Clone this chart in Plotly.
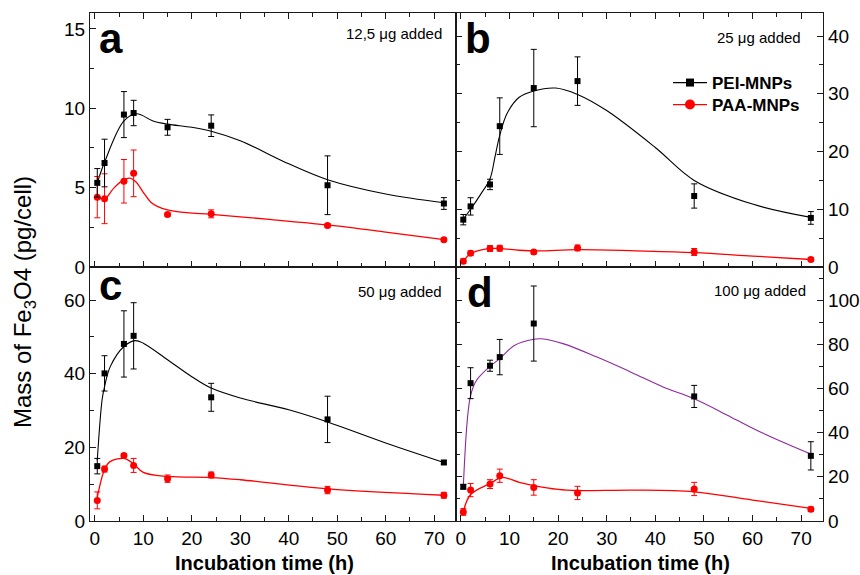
import plotly.graph_objects as go

FONT = "Liberation Sans, Arial, sans-serif"

# ---------------- data ----------------
times = [0.5, 2, 6, 8, 15, 24, 48, 72]

pei_a = [5.3, 6.55, 9.6, 9.7, 8.8, 8.9, 5.15, 4.0]
pei_a_err = [0.9, 1.5, 1.45, 0.8, 0.5, 0.68, 1.85, 0.37]
paa_a = [4.4, 4.3, 5.4, 5.9, 3.3, 3.35, 2.62, 1.72]
paa_a_err = [1.3, 1.57, 1.37, 1.47, 0.1, 0.25, 0.1, 0.1]

pei_b = [8.2, 10.5, 14.3, 24.4, 31.0, 32.2, 12.3, 8.5]
pei_b_err = [0.9, 1.5, 0.9, 4.9, 6.7, 4.2, 2.1, 1.1]
paa_b = [1.0, 2.4, 3.2, 3.25, 2.6, 3.3, 2.6, 1.3]
paa_b_err = [0.4, 0.4, 0.5, 0.5, 0.3, 0.5, 0.6, 0.3]

pei_c = [14.9, 40.1, 48.1, 50.3, None, 33.6, 27.6, 15.9]
pei_c_err = [2.1, 4.8, 9.0, 9.0, None, 3.8, 6.3, 0.5]
paa_c = [5.6, 14.1, 17.8, 15.1, 11.5, 12.5, 8.4, 7.0]
paa_c_err = [2.3, 0.8, 0.5, 1.9, 1.0, 0.8, 1.0, 0.8]

pei_d = [15.5, 62.4, 70.3, 74.2, 89.4, None, 56.4, 29.5]
pei_d_err = [1.0, 7.0, 2.5, 8.0, 17.0, None, 5.0, 6.4]
paa_d = [4.1, 14.0, 16.7, 20.5, 15.2, 12.7, 14.5, 5.3]
paa_d_err = [1.5, 3.0, 2.0, 3.0, 3.5, 3.0, 3.0, 1.0]

# fitted curves
fit_a_pei_t = [0.5, 2, 6, 8.6, 12, 15, 20, 24, 30, 40, 48, 60, 72]
fit_a_pei_y = [5.3, 6.6, 9.2, 9.65, 9.2, 9.0, 8.8, 8.55, 7.95, 6.5, 5.5, 4.6, 4.05]
fit_a_paa_t = [0.5, 2, 4, 6, 7.2, 8.5, 10, 11.5, 13, 15, 19, 24, 36, 48, 60, 72]
fit_a_paa_y = [4.4, 4.3, 5.0, 5.5, 5.6, 5.35, 4.7, 4.1, 3.8, 3.6, 3.42, 3.32, 3.0, 2.65, 2.2, 1.72]

fit_b_pei_t = [0.5, 2, 4, 6, 7, 8, 9.5, 12, 15, 19.5, 24, 30, 40, 48, 60, 72]
fit_b_pei_y = [8.3, 10.0, 12.5, 15.3, 19.0, 22.8, 26.6, 29.4, 30.5, 31.0, 29.9, 27.1, 20.7, 15.0, 10.9, 8.6]
fit_b_paa_t = [0.5, 2, 5, 8, 12, 16, 24, 36, 48, 60, 72]
fit_b_paa_y = [1.0, 2.3, 3.1, 3.2, 2.9, 2.8, 3.0, 2.8, 2.5, 1.9, 1.3]

fit_c_pei_t = [0.5, 1.5, 2, 3.2, 6, 8.3, 10, 15, 20, 24, 30, 40, 48, 60, 72]
fit_c_pei_y = [16.5, 33, 36.5, 42, 47.4, 49, 48.3, 43.8, 39.2, 36.1, 33.4, 30.2, 26.9, 21.2, 15.9]
fit_c_paa_t = [0.5, 2, 3, 6, 8, 10, 15, 24, 30, 48, 72]
fit_c_paa_y = [6.5, 14, 16, 17, 15.5, 13.2, 12.1, 11.8, 11.2, 8.7, 7.0]

fit_d_pei_t = [0.5, 1.3, 2, 3.2, 6, 8, 11, 15, 16.5, 21, 28, 35, 41.7, 48, 55.6, 62.5, 72]
fit_d_pei_y = [15.5, 45, 56.8, 63.6, 70, 73.5, 79.5, 82.3, 82.5, 80.3, 74.2, 67.4, 60.6, 55.3, 47, 39.4, 30.3]
fit_d_paa_t = [0.5, 2, 6, 8.5, 12, 15, 20, 24, 36, 48, 60, 72]
fit_d_paa_y = [4.1, 12, 17, 19.7, 17.5, 16, 14.3, 13.8, 14, 13.2, 9.5, 5.7]

panel_letters = ["a", "b", "c", "d"]
panel_notes = ["12,5 \u03bcg added", "25 \u03bcg added", "50 \u03bcg added", "100 \u03bcg added"]
legend_names = ["PEI-MNPs", "PAA-MNPs"]

BLACK = "#000000"
RED = "#ff0000"
PURPLE = "#8e2a9e"

panels = [
    ("x", "y", pei_a, pei_a_err, paa_a, paa_a_err, fit_a_pei_t, fit_a_pei_y, fit_a_paa_t, fit_a_paa_y, BLACK),
    ("x2", "y2", pei_b, pei_b_err, paa_b, paa_b_err, fit_b_pei_t, fit_b_pei_y, fit_b_paa_t, fit_b_paa_y, BLACK),
    ("x3", "y3", pei_c, pei_c_err, paa_c, paa_c_err, fit_c_pei_t, fit_c_pei_y, fit_c_paa_t, fit_c_paa_y, BLACK),
    ("x4", "y4", pei_d, pei_d_err, paa_d, paa_d_err, fit_d_pei_t, fit_d_pei_y, fit_d_paa_t, fit_d_paa_y, PURPLE),
]

fig = go.Figure()
for xa, ya, pei, pei_e, paa, paa_e, fpt, fpy, fat, fay, pcol in panels:
    fig.add_trace(go.Scatter(x=fpt, y=fpy, xaxis=xa, yaxis=ya, mode="lines",
                             line=dict(color=pcol, width=1.1, shape="spline", smoothing=1.0),
                             showlegend=False, hoverinfo="skip"))
    fig.add_trace(go.Scatter(x=fat, y=fay, xaxis=xa, yaxis=ya, mode="lines",
                             line=dict(color=RED, width=1.3, shape="spline", smoothing=1.0),
                             showlegend=False, hoverinfo="skip"))
    fig.add_trace(go.Scatter(x=times, y=paa, xaxis=xa, yaxis=ya, mode="markers",
                             marker=dict(symbol="circle", size=7, color=RED),
                             error_y=dict(type="data", array=paa_e, color=RED, thickness=1, width=3),
                             showlegend=False))
    fig.add_trace(go.Scatter(x=times, y=pei, xaxis=xa, yaxis=ya, mode="markers",
                             marker=dict(symbol="square", size=6, color=BLACK),
                             error_y=dict(type="data", array=pei_e, color=BLACK, thickness=1, width=3),
                             showlegend=False))

# legend entries (one legend box per row so the rows can be placed exactly)
fig.add_trace(go.Scatter(x=[None], y=[None], xaxis="x2", yaxis="y2", mode="lines+markers",
                         name=legend_names[0], line=dict(color=BLACK, width=1.2), legend="legend",
                         marker=dict(symbol="square", size=8, color=BLACK)))
fig.add_trace(go.Scatter(x=[None], y=[None], xaxis="x2", yaxis="y2", mode="lines+markers",
                         name=legend_names[1], line=dict(color=RED, width=1.2), legend="legend2",
                         marker=dict(symbol="circle", size=10, color=RED)))

W, H = 860, 575
def px_x(v):
    return v / W
def px_y(v):
    return 1 - v / H

xdom_l = [px_x(90), px_x(456)]
xdom_r = [px_x(456), px_x(823)]
ydom_t = [px_y(267), px_y(13)]
ydom_b = [px_y(521), px_y(267)]

AX = "#1a1a1a"
tickfont = dict(family=FONT, size=19, color="#000")

def xaxis(dom, anchor, labels, mirror):
    return dict(domain=dom, anchor=anchor, range=[-1, 74.5], dtick=10, tick0=0,
                showticklabels=labels, ticks="inside", ticklen=6, tickwidth=1, tickcolor=AX,
                minor=dict(ticks="inside", ticklen=4, dtick=5, tick0=0, tickcolor=AX, tickwidth=1),
                showline=True, linecolor=AX, linewidth=1.2, mirror=mirror, automargin=False,
                showgrid=False, zeroline=False, tickfont=tickfont)

def yaxis(dom, anchor, rng, dt, mdt, side, mirror):
    return dict(domain=dom, anchor=anchor, range=rng, dtick=dt, tick0=0, side=side,
                ticks="inside", ticklen=6, tickwidth=1, tickcolor=AX,
                minor=dict(ticks="inside", ticklen=4, dtick=mdt, tick0=0, tickcolor=AX, tickwidth=1),
                showline=True, linecolor=AX, linewidth=1.2, mirror=mirror, automargin=False,
                showgrid=False, zeroline=False, tickfont=tickfont)

legfont = dict(family=FONT, size=17, color="#000", weight="bold")
def legend_box(ycenter):
    return dict(x=px_x(668), y=px_y(ycenter), xanchor="left", yanchor="middle",
                bgcolor="rgba(0,0,0,0)", borderwidth=0, font=legfont,
                itemwidth=34, tracegroupgap=0)

fig.update_layout(
    template="none",
    width=W, height=H, margin=dict(l=0, r=0, t=0, b=0, pad=0, autoexpand=False),
    paper_bgcolor="white", plot_bgcolor="white",
    font=dict(family=FONT, color="#000"),
    xaxis=xaxis(xdom_l, "y", False, "ticks"),
    yaxis=yaxis(ydom_t, "x", [0, 16], 5, 2.5, "left", True),
    xaxis2=xaxis(xdom_r, "y2", False, "ticks"),
    yaxis2=yaxis(ydom_t, "x2", [0, 44], 10, 5, "right", "ticks"),
    xaxis3=xaxis(xdom_l, "y3", True, True),
    yaxis3=yaxis(ydom_b, "x3", [0, 69], 20, 10, "left", True),
    xaxis4=xaxis(xdom_r, "y4", True, True),
    yaxis4=yaxis(ydom_b, "x4", [0, 115], 20, 10, "right", "ticks"),
    showlegend=True,
    legend=legend_box(83),
    legend2=legend_box(105),
)

ann = []
letter_pos = [(97, 54), (463, 54), (97, 301), (465, 308)]
note_pos = [(444, 33), (803, 37), (444, 291), (808, 290)]
for i in range(4):
    lx, ly = letter_pos[i]
    ann.append(dict(text="<b>%s</b>" % panel_letters[i], x=px_x(lx), y=px_y(ly), xref="paper", yref="paper",
                    xanchor="left", yanchor="bottom", showarrow=False,
                    font=dict(family=FONT, size=42, color="#000"), yshift=-10))
    nx, ny = note_pos[i]
    ann.append(dict(text=panel_notes[i], x=px_x(nx), y=px_y(ny), xref="paper", yref="paper",
                    xanchor="right", yanchor="middle", showarrow=False,
                    font=dict(family=FONT, size=15, color="#000")))

ann.append(dict(text="Mass of Fe<sub>3</sub>O4 (pg/cell)", x=px_x(24), y=px_y(302),
                xref="paper", yref="paper", xanchor="center", yanchor="middle", textangle=-90,
                showarrow=False, font=dict(family=FONT, size=24, color="#000")))
ann.append(dict(text="<b>Incubation time (h)</b>", x=px_x(264), y=px_y(563),
                xref="paper", yref="paper", xanchor="center", yanchor="middle",
                showarrow=False, font=dict(family=FONT, size=20, color="#000")))
ann.append(dict(text="<b>Incubation time (h)</b>", x=px_x(640), y=px_y(563),
                xref="paper", yref="paper", xanchor="center", yanchor="middle",
                showarrow=False, font=dict(family=FONT, size=20, color="#000")))
fig.update_layout(annotations=ann)

fig.write_html("out.html")
